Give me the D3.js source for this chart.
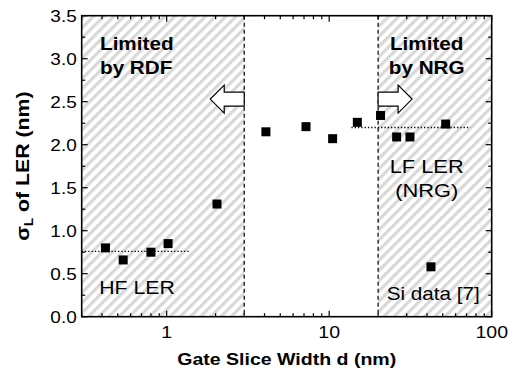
<!DOCTYPE html>
<html><head><meta charset="utf-8">
<script src="https://cdn.jsdelivr.net/npm/d3@7"></script>
<style>
body{margin:0;background:#fff}
svg{display:block}
text{font-family:"Liberation Sans",Arial,Helvetica,sans-serif;fill:#000}
</style>
</head><body>
<svg id="c" width="520" height="376"></svg>
<script>
// ---- data ----
const hfWidth = [0.42, 0.54, 0.80, 1.02, 2.04];
const hfSigma = [0.80, 0.66, 0.75, 0.85, 1.31];
const lfWidth = [4.08, 7.2, 10.5, 14.9, 20.7, 26.0, 31.4, 52.1];
const lfSigma = [2.15, 2.21, 2.07, 2.26, 2.34, 2.09, 2.09, 2.24];
const siWidth = [42.3];
const siSigma = [0.58];
const xTickValues = [1, 10, 100];
const xTickLabels = ["1", "10", "100"];
const yTickValues = [0, 0.5, 1.0, 1.5, 2.0, 2.5, 3.0, 3.5];
const yTickLabels = ["0.0", "0.5", "1.0", "1.5", "2.0", "2.5", "3.0", "3.5"];
const rdfLimit = 3, nrgLimit = 20;
const hfLevel = 0.76, hfSpan = [0.3, 1.4];
const lfLevel = 2.2, lfSpan = [13.7, 74];
const arrowLevel = 2.53;

// ---- layout ----
const W = 520, H = 376;
const m = {l: 81.7, t: 15.7, r: 28.3, b: 59.3};
const pw = W - m.l - m.r, ph = H - m.t - m.b;
const svg = d3.select("#c");
const x = d3.scaleLog().domain([0.3, 100]).range([0, pw]);
const y = d3.scaleLinear().domain([0, 3.5]).range([ph, 0]);
const g = svg.append("g").attr("transform", `translate(${m.l},${m.t})`);

// hatch pattern
const defs = svg.append("defs");
const pat = defs.append("pattern").attr("id", "hatch").attr("patternUnits", "userSpaceOnUse")
  .attr("width", 7.2).attr("height", 7.2).attr("patternTransform", "rotate(45)");
pat.append("rect").attr("width", 7.2).attr("height", 7.2).attr("fill", "#fff");
pat.append("rect").attr("x", 0).attr("width", 3.2).attr("height", 7.2).attr("fill", "#d8d8d8");

g.append("rect").attr("x", 0).attr("y", 0).attr("width", x(rdfLimit)).attr("height", ph).attr("fill", "url(#hatch)");
g.append("rect").attr("x", x(nrgLimit)).attr("y", 0).attr("width", pw - x(nrgLimit)).attr("height", ph).attr("fill", "url(#hatch)");

// dashed boundaries
[rdfLimit, nrgLimit].forEach(v => {
  g.append("line").attr("x1", x(v)).attr("x2", x(v)).attr("y1", 0).attr("y2", ph)
    .attr("stroke", "#000").attr("stroke-width", 1.2).attr("stroke-dasharray", "4,3");
});

// dotted averages
g.append("line").attr("x1", x(hfSpan[0])).attr("x2", x(hfSpan[1])).attr("y1", y(hfLevel)).attr("y2", y(hfLevel))
  .attr("stroke", "#000").attr("stroke-width", 1.3).attr("stroke-dasharray", "1.3,2");
g.append("line").attr("x1", x(lfSpan[0])).attr("x2", x(lfSpan[1])).attr("y1", y(lfLevel)).attr("y2", y(lfLevel))
  .attr("stroke", "#000").attr("stroke-width", 1.3).attr("stroke-dasharray", "1.3,2");

// arrows
function arrow(x0, dir) {
  const cy = y(arrowLevel), L = 34, hl = 14, sh = 7, hh = 14;
  const xb = x0 + dir * (L - hl), xt = x0 + dir * L;
  const pts = [[x0, cy - sh], [xb, cy - sh], [xb, cy - hh], [xt, cy], [xb, cy + hh], [xb, cy + sh], [x0, cy + sh]];
  g.append("path").attr("d", "M" + pts.map(p => p.join(",")).join("L") + "Z")
    .attr("fill", "#fff").attr("stroke", "#000").attr("stroke-width", 1.2);
}
arrow(x(rdfLimit), -1);
arrow(x(nrgLimit), 1);

// axes ticks (inward)
const minorX = [];
[0.1, 1, 10].forEach(d => { for (let k = 2; k <= 9; k++) { const v = d * k; if (v >= 0.3 && v <= 100) minorX.push(v); } });
const minorY = d3.range(0.25, 3.5, 0.5);
function ticks(vals, len) {
  vals.forEach(v => {
    const px = x(v);
    g.append("line").attr("x1", px).attr("x2", px).attr("y1", ph).attr("y2", ph - len).attr("stroke", "#000").attr("stroke-width", 1.2);
    g.append("line").attr("x1", px).attr("x2", px).attr("y1", 0).attr("y2", len).attr("stroke", "#000").attr("stroke-width", 1.2);
  });
}
ticks(xTickValues, 6);
ticks(minorX, 3.5);
function yt(vals, len) {
  vals.forEach(v => {
    const py = y(v);
    g.append("line").attr("x1", 0).attr("x2", len).attr("y1", py).attr("y2", py).attr("stroke", "#000").attr("stroke-width", 1.2);
    g.append("line").attr("x1", pw).attr("x2", pw - len).attr("y1", py).attr("y2", py).attr("stroke", "#000").attr("stroke-width", 1.2);
  });
}
yt(yTickValues, 6);
yt(minorY, 3.5);

// frame
g.append("rect").attr("width", pw).attr("height", ph).attr("fill", "none").attr("stroke", "#000").attr("stroke-width", 1.6);

// text helper (fonts in the source are slightly wide)
const SX = 1.15;
function txt(px, py, s, size, weight, anchor) {
  return g.append("text").attr("transform", `translate(${px},${py}) scale(${SX},1)`)
    .attr("font-size", size).attr("font-weight", weight || "normal").attr("text-anchor", anchor || "start").text(s);
}
xTickValues.forEach((v, i) => txt(x(v), ph + 21, xTickLabels[i], 17, "normal", "middle"));
yTickValues.forEach((v, i) => txt(-5, y(v) + 6, yTickLabels[i], 16.5, "normal", "end"));

// data markers
const pts = [];
hfWidth.forEach((w, i) => pts.push([w, hfSigma[i]]));
lfWidth.forEach((w, i) => pts.push([w, lfSigma[i]]));
siWidth.forEach((w, i) => pts.push([w, siSigma[i]]));
g.selectAll("rect.pt").data(pts).enter().append("rect").attr("class", "pt")
  .attr("x", d => x(d[0]) - 4.5).attr("y", d => y(d[1]) - 4.5).attr("width", 9).attr("height", 9).attr("fill", "#000");

// annotations
txt(18.3, 34.3, "Limited", 18, "bold", "start");
txt(18.3, 58.3, "by RDF", 18, "bold", "start");
txt(345, 34.3, "Limited", 18, "bold", "middle");
txt(345, 58.3, "by NRG", 18, "bold", "middle");
txt(345, 157.5, "LF LER", 19, "normal", "middle");
txt(345, 181, "(NRG)", 19, "normal", "middle");
txt(17.5, 278.5, "HF LER", 18.5, "normal", "start");
txt(351.5, 284.5, "Si data [7]", 18, "normal", "middle");

// axis titles
svg.append("text").attr("transform", `translate(${m.l + pw / 2},${H - 11}) scale(${SX},1)`)
  .attr("font-size", 17).attr("font-weight", "bold").attr("text-anchor", "middle").text("Gate Slice Width d (nm)");
const yl = svg.append("text").attr("transform", `translate(29,${m.t + ph / 2}) rotate(-90) scale(1.15,1)`)
  .attr("font-size", 18.5).attr("font-weight", "bold").attr("text-anchor", "middle");
yl.append("tspan").text("σ");
yl.append("tspan").attr("font-size", 12).attr("dy", 4).text("L");
yl.append("tspan").attr("dy", -4).text(" of LER (nm)");
</script>
</body></html>
